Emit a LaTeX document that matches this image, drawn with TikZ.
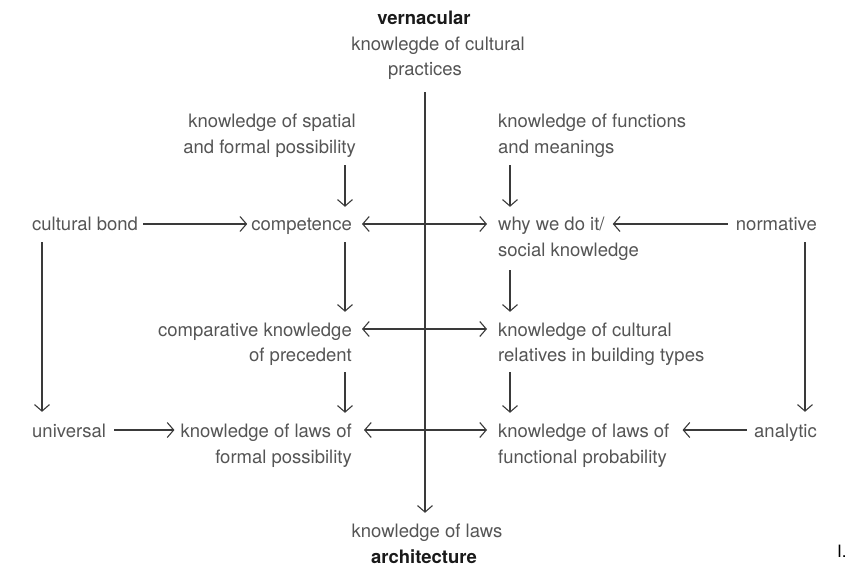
\documentclass[tikz,border=0pt]{standalone}
\usepackage{fontspec}
\setmainfont{TeX Gyre Heros}
\usetikzlibrary{arrows.meta}
\definecolor{txt}{HTML}{555555}
\definecolor{ink}{HTML}{3A3A3A}
\definecolor{head}{HTML}{1A1A1A}
\begin{document}
\begin{tikzpicture}[x=1pt,y=-1pt,
  lbl/.style={inner sep=0pt, text height=14pt, text depth=0pt, text=txt,
              font=\fontsize{18.5}{26}\selectfont},
  ttl/.style={lbl, text=head, font=\fontsize{18.5}{26}\selectfont\bfseries},
  arr/.style={draw=ink, line width=1.1pt,
              >={Straight Barb[length=6.5pt,width=15pt,line width=1.1pt]}},
  axis/.style={arr, line width=1.4pt}]
\useasboundingbox (0,0) rectangle (855,567);

% axis ends
\node[ttl, anchor=base] (vern) at (424,25) {vernacular};
\node[lbl, anchor=base] (kcp1) at (438,51) {knowlegde of cultural};
\node[lbl, anchor=base] (kcp2) at (425,76) {practices};
\node[lbl, anchor=base] (kl) at (427,537) {knowledge of laws};
\node[ttl, anchor=base] (arch) at (424,563) {architecture};
\node[inner sep=0pt, anchor=base west, text=black,
      font=\fontsize{17}{20}\selectfont] (num) at (837,557) {I.};

% upper sources
\node[lbl, anchor=base east] (spat1) at (356,128) {knowledge of spatial};
\node[lbl, anchor=base east] (spat2) at (356,154) {and formal possibility};
\node[lbl, anchor=base west] (func1) at (498,128) {knowledge of functions};
\node[lbl, anchor=base west] (func2) at (498,154) {and meanings};

% first row
\node[lbl, anchor=base west] (cb) at (32,231) {cultural bond};
\node[lbl, anchor=base east] (comp) at (352,231) {competence};
\node[lbl, anchor=base west] (why1) at (498,231) {why we do it/};
\node[lbl, anchor=base west] (why2) at (498,257) {social knowledge};
\node[lbl, anchor=base east] (norm) at (817,231) {normative};

% second row
\node[lbl, anchor=base east] (cmp1) at (352,336) {comparative knowledge};
\node[lbl, anchor=base east] (cmp2) at (352,361) {of precedent};
\node[lbl, anchor=base west] (rel1) at (498,336) {knowledge of cultural};
\node[lbl, anchor=base west] (rel2) at (498,361) {relatives in building types};

% third row
\node[lbl, anchor=base west] (univ) at (32,437) {universal};
\node[lbl, anchor=base east] (lf1) at (352,437) {knowledge of laws of};
\node[lbl, anchor=base east] (lf2) at (352,463) {formal possibility};
\node[lbl, anchor=base west] (lp1) at (498,437) {knowledge of laws of};
\node[lbl, anchor=base west] (lp2) at (498,463) {functional probability};
\node[lbl, anchor=base east] (ana) at (817,437) {analytic};

% column lines for the vertical connectors
\coordinate (colL) at ([xshift=-7pt]comp.east);
\coordinate (colR) at ([xshift=12pt]why1.west);
\coordinate (colO) at ([xshift=10pt]cb.west);
\coordinate (colN) at ([xshift=-12pt]norm.east);

% central axis
\draw[axis, ->, shorten <=16pt, shorten >=10pt] (kcp2.south) -- (kcp2.south |- kl.north);

% vertical connectors
\draw[arr, ->, shorten <=11pt, shorten >=10pt] (spat2.south -| colL) -- (comp.north -| colL);
\draw[arr, ->, shorten <=11pt, shorten >=10pt] (func2.south -| colR) -- (why1.north -| colR);
\draw[arr, ->, shorten <=11pt, shorten >=10pt] (comp.south -| colL) -- (cmp1.north -| colL);
\draw[arr, ->, shorten <=13pt, shorten >=10pt] (why2.south -| colR) -- (rel1.north -| colR);
\draw[arr, ->, shorten <=11pt, shorten >=10pt] (cmp2.south -| colL) -- (lf1.north -| colL);
\draw[arr, ->, shorten <=11pt, shorten >=10pt] (rel2.south -| colR) -- (lp1.north -| colR);
\draw[arr, ->, shorten <=11pt, shorten >=11pt] (cb.south -| colO) -- (univ.north -| colO);
\draw[arr, ->, shorten <=11pt, shorten >=11pt] (norm.south -| colN) -- (ana.north -| colN);

% horizontal connectors
\draw[arr, ->, shorten <=5pt, shorten >=4pt] (cb.east) -- (comp.west);
\draw[arr, <->, shorten <=10pt, shorten >=11pt] (comp.east) -- (why1.west);
\draw[arr, ->, shorten <=8pt, shorten >=8pt] (norm.west) -- (why1.east);
\draw[arr, <->, shorten <=10pt, shorten >=11pt] (cmp1.east) -- (rel1.west);
\draw[arr, ->, shorten <=8pt, shorten >=6pt] (univ.east) -- (lf1.west);
\draw[arr, <->, shorten <=12pt, shorten >=11pt] (lf1.east) -- (lp1.west);
\draw[arr, ->, shorten <=7pt, shorten >=13pt] (ana.west) -- (lp1.east);
\end{tikzpicture}
\end{document}
